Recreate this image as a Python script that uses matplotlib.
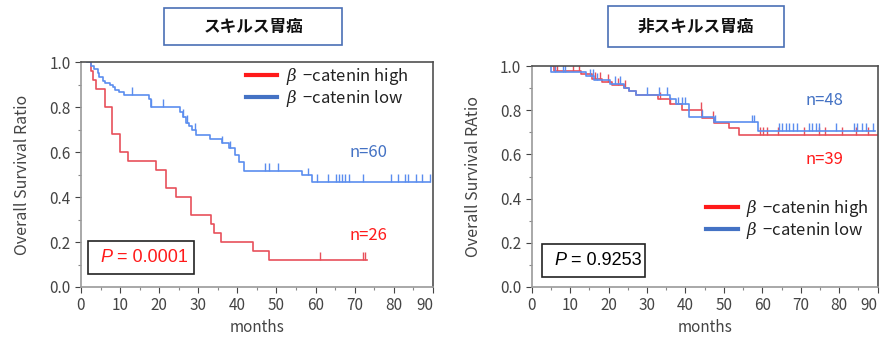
import matplotlib.pyplot as plt
import numpy as np
from matplotlib.lines import Line2D
from matplotlib.patches import Rectangle

plt.rcParams['font.family'] = ['Noto Sans CJK JP', 'DejaVu Sans']
plt.rcParams['mathtext.fontset'] = 'dejavuserif'

# left panel: scirrhous gastric cancer
left_hi_t = [2.3, 2.5, 3.0, 3.9, 6.2, 7.9, 9.9, 12.0, 19.1, 21.8, 24.2, 28.2, 33.2, 34.1, 35.9, 44.1, 48.0, 73.2]
left_hi_s = [1.0, 0.96, 0.92, 0.88, 0.80, 0.68, 0.60, 0.56, 0.52, 0.44, 0.40, 0.32, 0.28, 0.24, 0.20, 0.16, 0.12, 0.12]
left_hi_cens = [61.2, 72.1, 72.6]

left_lo_t = [1.6, 2.6, 3.4, 4.3, 4.7, 5.6, 6.2, 7.3, 8.1, 8.8, 9.8, 11.1, 17.5, 17.9, 25.4, 26.1,
             26.8, 27.6, 28.4, 29.3, 33.1, 36.0, 37.8, 39.5, 40.3, 41.6, 56.5, 59.1, 89.2]
left_lo_s = [1.0, 0.983, 0.967, 0.95, 0.933, 0.917, 0.907, 0.898, 0.887, 0.877, 0.868, 0.853, 0.835, 0.80,
             0.778, 0.756, 0.729, 0.714, 0.696, 0.674, 0.66, 0.638, 0.616, 0.587, 0.557, 0.516, 0.496, 0.467, 0.467]
left_lo_cens = [13.0, 17.9, 20.9, 26.2, 27.1, 29.2, 36.0, 38.1, 47.1, 48.0, 50.3, 58.1, 60.4, 63.2, 65.1,
                65.9, 66.8, 67.6, 68.5, 72.2, 79.2, 81.0, 82.8, 83.6, 85.6, 87.1, 89.2]

# right panel: non-scirrhous gastric cancer
right_hi_t = [5.6, 5.9, 12.8, 15.8, 18.4, 20.8, 23.9, 25.4, 27.2, 32.9, 36.0, 39.0, 44.2, 47.3, 51.2, 54.0, 90.0]
right_hi_s = [1.0, 0.977, 0.962, 0.94, 0.928, 0.913, 0.902, 0.887, 0.868, 0.849, 0.827, 0.80, 0.763,
              0.742, 0.718, 0.688, 0.688]
right_hi_cens = [6.5, 10.8, 12.3, 16.5, 17.8, 19.9, 22.5, 24.3, 33.5, 36.0, 44.1, 47.2, 59.3, 60.2, 61.1,
                 64.0, 70.8, 74.7, 76.3, 80.8, 84.4, 87.4]

right_lo_t = [5.0, 5.1, 14.1, 16.3, 20.5, 23.9, 25.4, 27.2, 36.0, 37.5, 40.8, 47.5, 59.0, 89.3]
right_lo_s = [1.0, 0.973, 0.953, 0.935, 0.92, 0.902, 0.887, 0.868, 0.849, 0.827, 0.768, 0.745, 0.706, 0.706]
right_lo_cens = [6.1, 8.1, 8.7, 15.2, 16.0, 16.9, 21.7, 23.0, 29.9, 33.1, 35.1, 38.1, 39.0, 39.9, 44.2,
                 47.7, 57.2, 57.8, 64.3, 65.2, 66.2, 67.0, 68.1, 69.1, 72.1, 73.0, 73.9, 74.7, 79.2,
                 83.8, 84.7, 85.9, 86.9, 88.9]

xticks = [0, 10, 20, 30, 40, 50, 60, 70, 80, 90]
yticks = [0.0, 0.2, 0.4, 0.6, 0.8, 1.0]
legend_labels = [r'$\beta\,$ −catenin high', r'$\beta\,$ −catenin low']

RED = '#e8505b'
BLUE = '#5b8def'
LEG_RED = '#ff1a1a'
LEG_BLUE = '#4472c4'


def km(ax, t, s, cens, color):
    ax.step(t, s, where='post', color=color, lw=1.2)
    t = np.asarray(t)
    s = np.asarray(s)
    idx = np.searchsorted(t, cens, side='right') - 1
    lvl = s[idx]
    ax.vlines(cens, lvl, lvl + 0.035, color=color, lw=1.0)


def style(ax, ylabel):
    ax.set_xlim(0, 90)
    ax.set_ylim(0, 1.0)
    ax.set_xticks(xticks)
    ax.set_yticks(yticks)
    ax.set_yticks(np.arange(0.1, 1.0, 0.2), minor=True)
    ax.set_xticks(np.arange(5, 90, 10), minor=True)
    ax.set_yticklabels(['%.1f' % v for v in yticks])
    ax.tick_params(labelsize=11, colors='#444444', length=4, width=0.8)
    ax.tick_params(which='minor', length=2.5, width=0.8, colors='#888888')
    ax.get_xticklabels()[-1].set_ha('right')
    for sp in ax.spines.values():
        sp.set_color('#505050')
        sp.set_linewidth(1.2)
    ax.spines['left'].set_color('#9a9a9a')
    ax.spines['bottom'].set_color('#9a9a9a')
    ax.set_xlabel('months', fontsize=11, color='#444444', labelpad=3)
    ax.set_ylabel(ylabel, fontsize=11.5, color='#444444', labelpad=13)


def pbox(ax, x0, y0, x1, y1, value, color):
    ax.add_patch(Rectangle((x0, y0), x1 - x0, y1 - y0, transform=ax.transAxes,
                           fill=False, ec='#222222', lw=1.2, zorder=5))
    p = ax.text(x0 + 0.035, (y0 + y1) / 2, 'P', transform=ax.transAxes, ha='left', va='center',
                fontsize=13, color=color, family='Liberation Sans', style='italic')
    ax.annotate(' = ' + value, xy=(1, 0), xycoords=p, ha='left', va='bottom',
                fontsize=13, color=color, family='Liberation Sans')


def title_box(fig, x0, y0, x1, y1, txt):
    fig.patches.append(Rectangle((x0, y0), x1 - x0, y1 - y0, transform=fig.transFigure,
                                 fill=False, ec='#4a6fb5', lw=1.2))
    fig.text((x0 + x1) / 2, (y0 + y1) / 2, txt, ha='center', va='center',
             fontsize=12, fontweight='bold', color='#111111')


fig = plt.figure(figsize=(8.82, 3.44), dpi=100)
ax1 = fig.add_axes([0.0918, 0.1657, 0.399, 0.654])
ax2 = fig.add_axes([0.6028, 0.1657, 0.3923, 0.6424])

km(ax1, left_hi_t, left_hi_s, left_hi_cens, RED)
km(ax1, left_lo_t, left_lo_s, left_lo_cens, BLUE)
km(ax2, right_hi_t, right_hi_s, right_hi_cens, RED)
km(ax2, right_lo_t, right_lo_s, right_lo_cens, BLUE)

style(ax1, 'Overall Survival Ratio')
style(ax2, 'Overall Survival RAtio')

handles = [Line2D([], [], color=LEG_RED, lw=3), Line2D([], [], color=LEG_BLUE, lw=3)]
ax1.legend(handles, legend_labels, loc='upper left', bbox_to_anchor=(0.425, 1.05), frameon=False,
           fontsize=12, handlelength=1.9, handletextpad=0.5, labelspacing=0.05, labelcolor='#222222')
ax2.legend(handles, legend_labels, loc='upper left', bbox_to_anchor=(0.46, 0.47), frameon=False,
           fontsize=12, handlelength=1.9, handletextpad=0.5, labelspacing=0.05, labelcolor='#222222')

ax1.text(73.6, 0.60, 'n=60', ha='center', va='center', fontsize=12, color=LEG_BLUE)
ax1.text(73.6, 0.23, 'n=26', ha='center', va='center', fontsize=12, color=LEG_RED)
ax2.text(76.1, 0.846, 'n=48', ha='center', va='center', fontsize=12, color=LEG_BLUE)
ax2.text(76.1, 0.578, 'n=39', ha='center', va='center', fontsize=12, color=LEG_RED)

pbox(ax1, 0.02, 0.058, 0.32, 0.204, '0.0001', LEG_RED)
pbox(ax2, 0.03, 0.045, 0.327, 0.195, '0.9253', 'black')

title_box(fig, 0.186, 0.869, 0.388, 0.977, 'スキルス胃癌')
title_box(fig, 0.689, 0.863, 0.889, 0.983, '非スキルス胃癌')

fig.savefig('out.png', dpi=100)
